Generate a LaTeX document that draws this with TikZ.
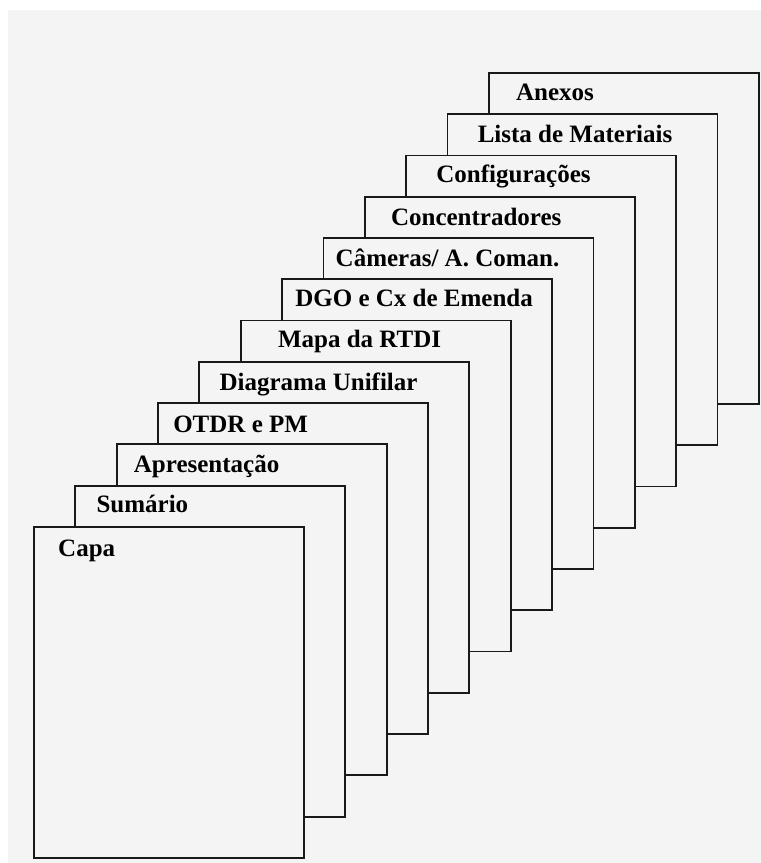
\documentclass[tikz,border=0pt]{standalone}
\usepackage{fontspec}
\setmainfont{Liberation Serif}
\definecolor{sheetbg}{RGB}{244,244,244}
\definecolor{sheetline}{RGB}{25,25,25}

\begin{document}
\begin{tikzpicture}[x=1pt, y=-1pt,
		sheet/.style={draw=sheetline, fill=sheetbg, line width=1.8pt, anchor=north west,
			inner sep=0pt, minimum width=270pt, minimum height=331pt},
		title/.style={anchor=base west, inner sep=0pt, font=\fontsize{25}{29}\selectfont\bfseries}]
	\useasboundingbox (0,0) rectangle (761,863);
	\fill[sheetbg] (8,10) rectangle (761,863);
	% sheets, drawn from the back to the front
	\foreach \i in {11,10,...,0}
		\node[sheet] (p\i) at (33+41.36*\i, 526-41.27*\i) {};
	% titles
	\node[title] (t0)  at ([shift={(25,30)}]p0.north west)  {Capa};
	\node[title] (t1)  at ([shift={(22,28)}]p1.north west)  {Sumário};
	\node[title] (t2)  at ([shift={(18,29)}]p2.north west)  {Apresentação};
	\node[title] (t3)  at ([shift={(16,30)}]p3.north west)  {OTDR e PM};
	\node[title] (t4)  at ([shift={(21,30)}]p4.north west)  {Diagrama Unifilar};
	\node[title] (t5)  at ([shift={(38,28)}]p5.north west)  {Mapa da RTDI};
	\node[title] (t6)  at ([shift={(14,28)}]p6.north west)  {DGO e Cx de Emenda};
	\node[title] (t7)  at ([shift={(13,29)}]p7.north west)  {Câmeras/ A. Coman.};
	\node[title] (t8)  at ([shift={(27,30)}]p8.north west)  {Concentradores};
	\node[title] (t9)  at ([shift={(31,28)}]p9.north west)  {Configurações};
	\node[title] (t10) at ([shift={(31,29)}]p10.north west) {Lista de Materiais};
	\node[title] (t11) at ([shift={(28,28)}]p11.north west) {Anexos};
\end{tikzpicture}
\end{document}
